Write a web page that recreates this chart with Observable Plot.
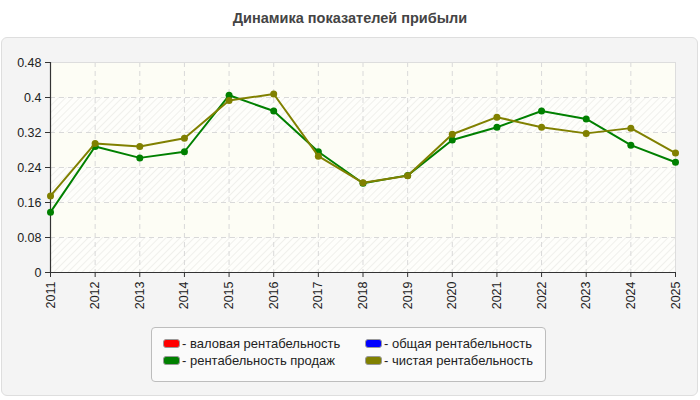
<!DOCTYPE html>
<html>
<head>
<meta charset="utf-8">
<script src="https://cdn.jsdelivr.net/npm/d3@7"></script>
<script src="https://cdn.jsdelivr.net/npm/@observablehq/plot@0.6"></script>
<style>
  html, body { margin: 0; padding: 0; background: #ffffff; }
  body { width: 700px; height: 400px; position: relative; overflow: hidden; font-family: "Liberation Sans", Arial, sans-serif; }
  #title { position: absolute; left: 0; top: 10px; width: 700px; text-align: center; font-size: 14.5px; font-weight: bold; color: #444; }
  #panel { position: absolute; left: 1px; top: 37px; width: 695px; height: 357px; background: #f4f4f4; border: 1px solid #dedede; border-radius: 6px; }
  #chart { position: absolute; left: 0; top: 0; }
  #legend { position: absolute; left: 151px; top: 327px; width: 395px; height: 55px; background: #fafafa; border: 1px solid #bdbdbd; border-radius: 4px; box-sizing: border-box; font-size: 13px; color: #222; }
  .item { position: absolute; height: 15px; line-height: 15px; white-space: nowrap; }
  .sw { display: inline-block; width: 15px; height: 7px; border: 1px solid #999; border-radius: 3px; vertical-align: middle; margin-right: 2px; position: relative; top: -1px; }
</style>
</head>
<body>
<div id="title">Динамика показателей прибыли</div>
<div id="panel"></div>
<div id="chart"></div>
<div id="legend"></div>
<script>
const years = ["2011","2012","2013","2014","2015","2016","2017","2018","2019","2020","2021","2022","2023","2024","2025"];
const salesMargin = [0.138,0.288,0.262,0.276,0.405,0.369,0.276,0.204,0.222,0.303,0.332,0.369,0.351,0.291,0.252];
const netMargin   = [0.175,0.295,0.288,0.307,0.393,0.408,0.266,0.205,0.221,0.316,0.355,0.332,0.318,0.330,0.273];
const yTicks = [0, 0.08, 0.16, 0.24, 0.32, 0.4, 0.48];
const legendLabels = ["- валовая рентабельность", "- общая рентабельность", "- рентабельность продаж", "- чистая рентабельность"];
const legendColors = ["#ff0000", "#0000ff", "#008000", "#808000"];

const sales = years.map((y, i) => ({year: y, value: salesMargin[i]}));
const net = years.map((y, i) => ({year: y, value: netMargin[i]}));
const bands = yTicks.slice(0, -1).map((t, i) => ({y1: t, y2: yTicks[i + 1], hatched: i % 2 === 0}));

const chart = Plot.plot({
  width: 700,
  height: 320,
  marginLeft: 50,
  marginRight: 25,
  marginTop: 62,
  marginBottom: 48,
  style: {background: "transparent", fontFamily: "'Liberation Sans', Arial, sans-serif", fontSize: "12.5px", color: "#222"},
  x: {type: "point", domain: years, padding: 0, round: false},
  y: {domain: [0, 0.48]},
  marks: [
    Plot.frame({fill: "#fdfdf5", stroke: "none"}),
    Plot.rectY(bands.filter(d => d.hatched), {y1: "y1", y2: "y2", fill: "url(#hatch)"}),
    Plot.gridY(yTicks, {stroke: "#d9d9d9", strokeOpacity: 1, strokeDasharray: "5,4"}),
    Plot.gridX(years, {stroke: "#d9d9d9", strokeOpacity: 1, strokeDasharray: "5,4"}),
    Plot.frame({stroke: "#dddddd", fill: "none"}),
    Plot.axisY(yTicks, {tickSize: 5, tickPadding: 4, tickFormat: d => String(+d.toFixed(2)), fontSize: 12.5, color: "#222", stroke: "#333", label: null}),
    Plot.axisX(years, {tickSize: 5, tickPadding: 4, tickRotate: -90, fontSize: 12.5, color: "#222", stroke: "#333", label: null}),
    Plot.ruleY([0], {stroke: "#333", strokeWidth: 1.2}),
    Plot.ruleX([years[0]], {stroke: "#333", strokeWidth: 1.2}),
    Plot.line(sales, {x: "year", y: "value", stroke: "#008000", strokeWidth: 2}),
    Plot.dot(sales, {x: "year", y: "value", fill: "#008000", r: 3.5}),
    Plot.line(net, {x: "year", y: "value", stroke: "#808000", strokeWidth: 2}),
    Plot.dot(net, {x: "year", y: "value", fill: "#808000", r: 3.5})
  ]
});

// hatch pattern
const ns = "http://www.w3.org/2000/svg";
const defs = document.createElementNS(ns, "defs");
defs.innerHTML = '<pattern id="hatch" patternUnits="userSpaceOnUse" width="5" height="5" patternTransform="rotate(45)">' +
  '<rect width="5" height="5" fill="#fefefb"></rect>' +
  '<line x1="0" y1="0" x2="0" y2="5" stroke="#f0f0ec" stroke-width="2"></line></pattern>';
chart.insertBefore(defs, chart.firstChild);
document.getElementById("chart").appendChild(chart);

// legend
const legend = document.getElementById("legend");
const pos = [[11, 8], [213, 8], [11, 25], [213, 25]];
legendLabels.forEach((lab, i) => {
  const it = document.createElement("div");
  it.className = "item";
  it.style.left = pos[i][0] + "px";
  it.style.top = pos[i][1] + "px";
  it.innerHTML = '<span class="sw" style="background:' + legendColors[i] + '"></span>' + lab;
  legend.appendChild(it);
});
</script>
</body>
</html>
